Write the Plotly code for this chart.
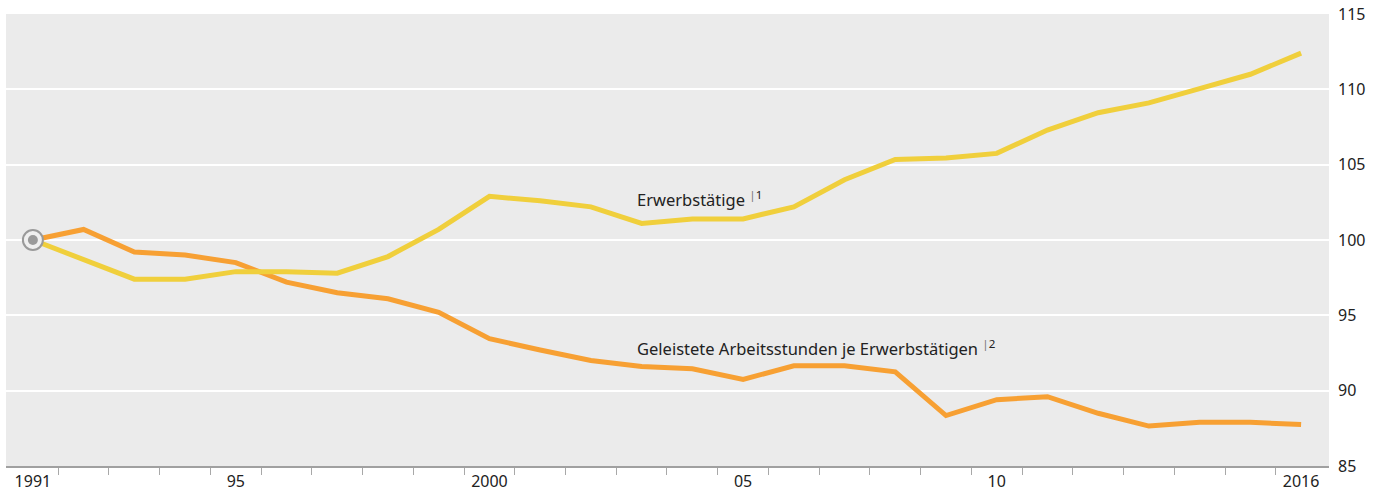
import plotly.graph_objects as go

years = list(range(1991, 2017))
erwerbstaetige = [100.0, 98.7, 97.4, 97.4, 97.9, 97.9, 97.8, 98.9, 100.7, 102.9,
                  102.6, 102.2, 101.1, 101.4, 101.4, 102.2, 104.0, 105.35, 105.45, 105.75,
                  107.3, 108.45, 109.1, 110.05, 111.0, 112.4]
arbeitsstunden = [100.0, 100.7, 99.2, 99.0, 98.5, 97.2, 96.5, 96.1, 95.2, 93.45,
                  92.7, 92.0, 91.6, 91.45, 90.75, 91.65, 91.65, 91.25, 88.35, 89.4,
                  89.6, 88.5, 87.65, 87.9, 87.9, 87.75]
x_tickvals = [1991, 1995, 2000, 2005, 2010, 2016]
x_ticktext = ["1991", "95", "2000", "05", "10", "2016"]
y_tickvals = [85, 90, 95, 100, 105, 110, 115]
label_erw = "Erwerbstätige"
label_std = "Geleistete Arbeitsstunden je Erwerbstätigen"

YELLOW = "#F0CF3C"
ORANGE = "#F7A033"
FONT = "Noto Sans"

fig = go.Figure()
fig.add_trace(go.Scatter(x=years, y=arbeitsstunden, mode="lines",
                         line=dict(color=ORANGE, width=5), hoverinfo="skip"))
fig.add_trace(go.Scatter(x=years, y=erwerbstaetige, mode="lines",
                         line=dict(color=YELLOW, width=5), hoverinfo="skip"))
# base-year marker
fig.add_trace(go.Scatter(x=[years[0]], y=[erwerbstaetige[0]], mode="markers",
                         marker=dict(size=20, color="#EFEFEF",
                                     line=dict(color="#9A9A9A", width=2)),
                         hoverinfo="skip"))
fig.add_trace(go.Scatter(x=[years[0]], y=[erwerbstaetige[0]], mode="markers",
                         marker=dict(size=10, color="#9A9A9A", line=dict(width=0)),
                         hoverinfo="skip"))

fig.add_shape(type="line", xref="paper", x0=0, x1=1, yref="y", y0=100, y1=100,
              line=dict(color="#9C9C9C", width=2), layer="between")

sup1 = '<sup><span style="color:#777">|</span>1</sup>'
sup2 = '<sup><span style="color:#777">|</span>2</sup>'
fig.add_annotation(x=2002.87, y=102.75, xref="x", yref="y",
                   text=label_erw + " " + sup1,
                   showarrow=False, xanchor="left", yanchor="middle",
                   font=dict(family=FONT, size=16.5, color="#222"))
fig.add_annotation(x=2002.87, y=92.85, xref="x", yref="y",
                   text=label_std + " " + sup2,
                   showarrow=False, xanchor="left", yanchor="middle",
                   font=dict(family=FONT, size=16.5, color="#222"))

minor_ticks = [y + 0.5 for y in years[:-1]]

fig.update_layout(
    width=1383, height=497,
    margin=dict(l=6, r=54, t=14, b=31),
    plot_bgcolor="#EBEBEB", paper_bgcolor="white",
    showlegend=False,
    font=dict(family=FONT, size=16, color="#222"),
    xaxis=dict(range=[1990.47, 2016.55], tickvals=x_tickvals, ticktext=x_ticktext,
               ticks="", showgrid=False, zeroline=False, automargin=False,
               showline=True, linecolor="#A0A0A0", linewidth=2,
               tickfont=dict(family=FONT, size=16, color="#222"),
               minor=dict(tickvals=minor_ticks, ticks="outside", ticklen=7,
                          tickcolor="#A8A8A8", tickwidth=1, showgrid=False)),
    yaxis=dict(range=[85, 115], side="right", tickvals=y_tickvals,
               showgrid=True, gridcolor="white", gridwidth=2, zeroline=False,
               ticks="", showline=False, ticklabelstandoff=8, automargin=False,
               tickfont=dict(family=FONT, size=16, color="#222")),
)

fig.write_html("out.html", config={"displayModeBar": False},
               post_script="document.body.style.margin='0';document.body.style.overflow='hidden';")
